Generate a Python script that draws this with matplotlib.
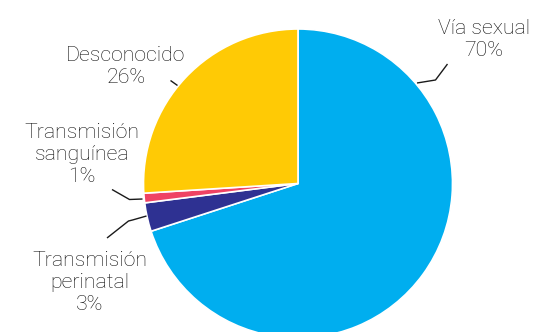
import matplotlib.pyplot as plt

# Vías de transmisión (porcentaje de casos)
categories = ["Vía sexual", "Transmisión\nperinatal", "Transmisión\nsanguínea", "Desconocido"]
shares = [70, 3, 1, 26]
colors = ["#00AEEF", "#2E3192", "#EF4264", "#FFCA05"]

W, H = 533, 332
fig = plt.figure(figsize=(W / 100, H / 100), dpi=100)
ax = fig.add_axes([0, 0, 1, 1])


def py(y):
    """Convert a top-down pixel row into data y."""
    return H - y


ax.pie(shares, colors=colors, startangle=90, counterclock=False,
       center=(298, py(183.5)), radius=154.5, frame=True,
       wedgeprops=dict(edgecolor="white", linewidth=1.2))

ax.set_xlim(0, W)
ax.set_ylim(0, H)
ax.set_aspect("auto")
ax.axis("off")

text_kw = dict(fontsize=15.3, color="#0F0F0F", ha="center", va="center",
               family=["Roboto", "DejaVu Sans"], fontweight="light",
               linespacing=1.2)

# label anchor (pixel coords) and leader polyline for each slice
label_pos = [(484, 40), (90, 282), (82, 155), (126, 66.5)]
leaders = [
    [(417, 83), (435.5, 80), (447.5, 64)],
    [(146.5, 216), (132.5, 220), (128.5, 221), (107, 238)],
    [(142.5, 199), (129.5, 199.5), (112, 189.5)],
    [(177.5, 85.5), (170.5, 80.5)],
]

for name, share, (x, y), pts in zip(categories, shares, label_pos, leaders):
    ax.text(x, py(y), f"{name}\n{share}%", **text_kw)
    ax.plot([p[0] for p in pts], [py(p[1]) for p in pts],
            color="#1A1A1A", lw=1.0, solid_capstyle="butt")

fig.savefig("out.png", dpi=100)
